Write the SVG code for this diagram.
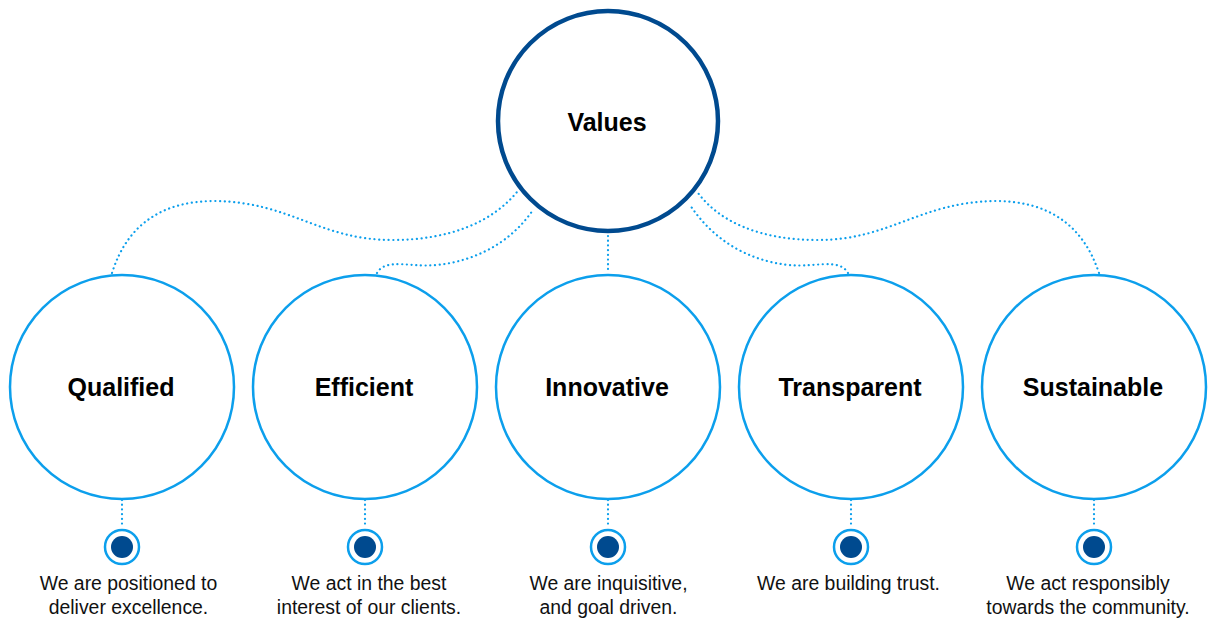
<svg xmlns="http://www.w3.org/2000/svg" width="1210" height="619" viewBox="0 0 1210 619">
<style>
.c{fill:#fff;stroke:#0c9fec;stroke-width:2.5}
.main{fill:#fff;stroke:#004a8f;stroke-width:4.5}
.lbl{font-family:"Liberation Sans",Arial,sans-serif;font-weight:bold;font-size:25px;fill:#000;text-anchor:middle}
.desc{font-family:"Liberation Sans",Arial,sans-serif;font-size:19.4px;fill:#111;text-anchor:middle}
.dot{fill:none;stroke:#0c9fec;stroke-width:2.2;stroke-linecap:round;stroke-dasharray:0.1 4.6}
.ring{fill:#fff;stroke:#0c9fec;stroke-width:2.5}
.core{fill:#004a8f}
</style>
<g id="connectors">
<path class="dot" d="M112,273 C128,222 165,201 215,201 C290,202 320,240 392,240 C450,240 492,222 517,192"/>
<path class="dot" d="M377,273 C383,262 398,264 415,265 C445,268 500,258 533,210"/>
<path class="dot" d="M608,236 L608,273"/>
<path class="dot" d="M848,273 C842,262 827,264 810,265 C780,268 725,258 690,205"/>
<path class="dot" d="M1099,273 C1082,222 1045,201 995,201 C920,202 890,240 818,240 C760,240 720,222 698,193"/>
<path class="dot" d="M122,500 L122,528"/>
<path class="dot" d="M365,500 L365,528"/>
<path class="dot" d="M608,500 L608,528"/>
<path class="dot" d="M851,500 L851,528"/>
<path class="dot" d="M1094,500 L1094,528"/>
</g>
<g id="values">
<circle class="main" cx="608" cy="121" r="110"/>
<text class="lbl" x="607" y="131">Values</text>
</g>
<g id="qualified">
<circle class="c" cx="122" cy="387" r="112"/>
<text class="lbl" x="121" y="396">Qualified</text>
<circle class="ring" cx="122" cy="547" r="17"/><circle class="core" cx="122" cy="547" r="11"/>
<text class="desc" x="128.5" y="590">We are positioned to</text>
<text class="desc" x="128.5" y="614">deliver excellence.</text>
</g>
<g id="efficient">
<circle class="c" cx="365" cy="387" r="112"/>
<text class="lbl" x="364" y="396">Efficient</text>
<circle class="ring" cx="365" cy="547" r="17"/><circle class="core" cx="365" cy="547" r="11"/>
<text class="desc" x="369" y="590">We act in the best</text>
<text class="desc" x="369" y="614">interest of our clients.</text>
</g>
<g id="innovative">
<circle class="c" cx="608" cy="387" r="112"/>
<text class="lbl" x="607" y="396">Innovative</text>
<circle class="ring" cx="608" cy="547" r="17"/><circle class="core" cx="608" cy="547" r="11"/>
<text class="desc" x="608.5" y="590">We are inquisitive,</text>
<text class="desc" x="608.5" y="614">and goal driven.</text>
</g>
<g id="transparent">
<circle class="c" cx="851" cy="387" r="112"/>
<text class="lbl" x="850" y="396">Transparent</text>
<circle class="ring" cx="851" cy="547" r="17"/><circle class="core" cx="851" cy="547" r="11"/>
<text class="desc" x="848.5" y="590">We are building trust.</text>
</g>
<g id="sustainable">
<circle class="c" cx="1094" cy="387" r="112"/>
<text class="lbl" x="1093" y="396">Sustainable</text>
<circle class="ring" cx="1094" cy="547" r="17"/><circle class="core" cx="1094" cy="547" r="11"/>
<text class="desc" x="1088" y="590">We act responsibly</text>
<text class="desc" x="1088" y="614">towards the community.</text>
</g>
</svg>
